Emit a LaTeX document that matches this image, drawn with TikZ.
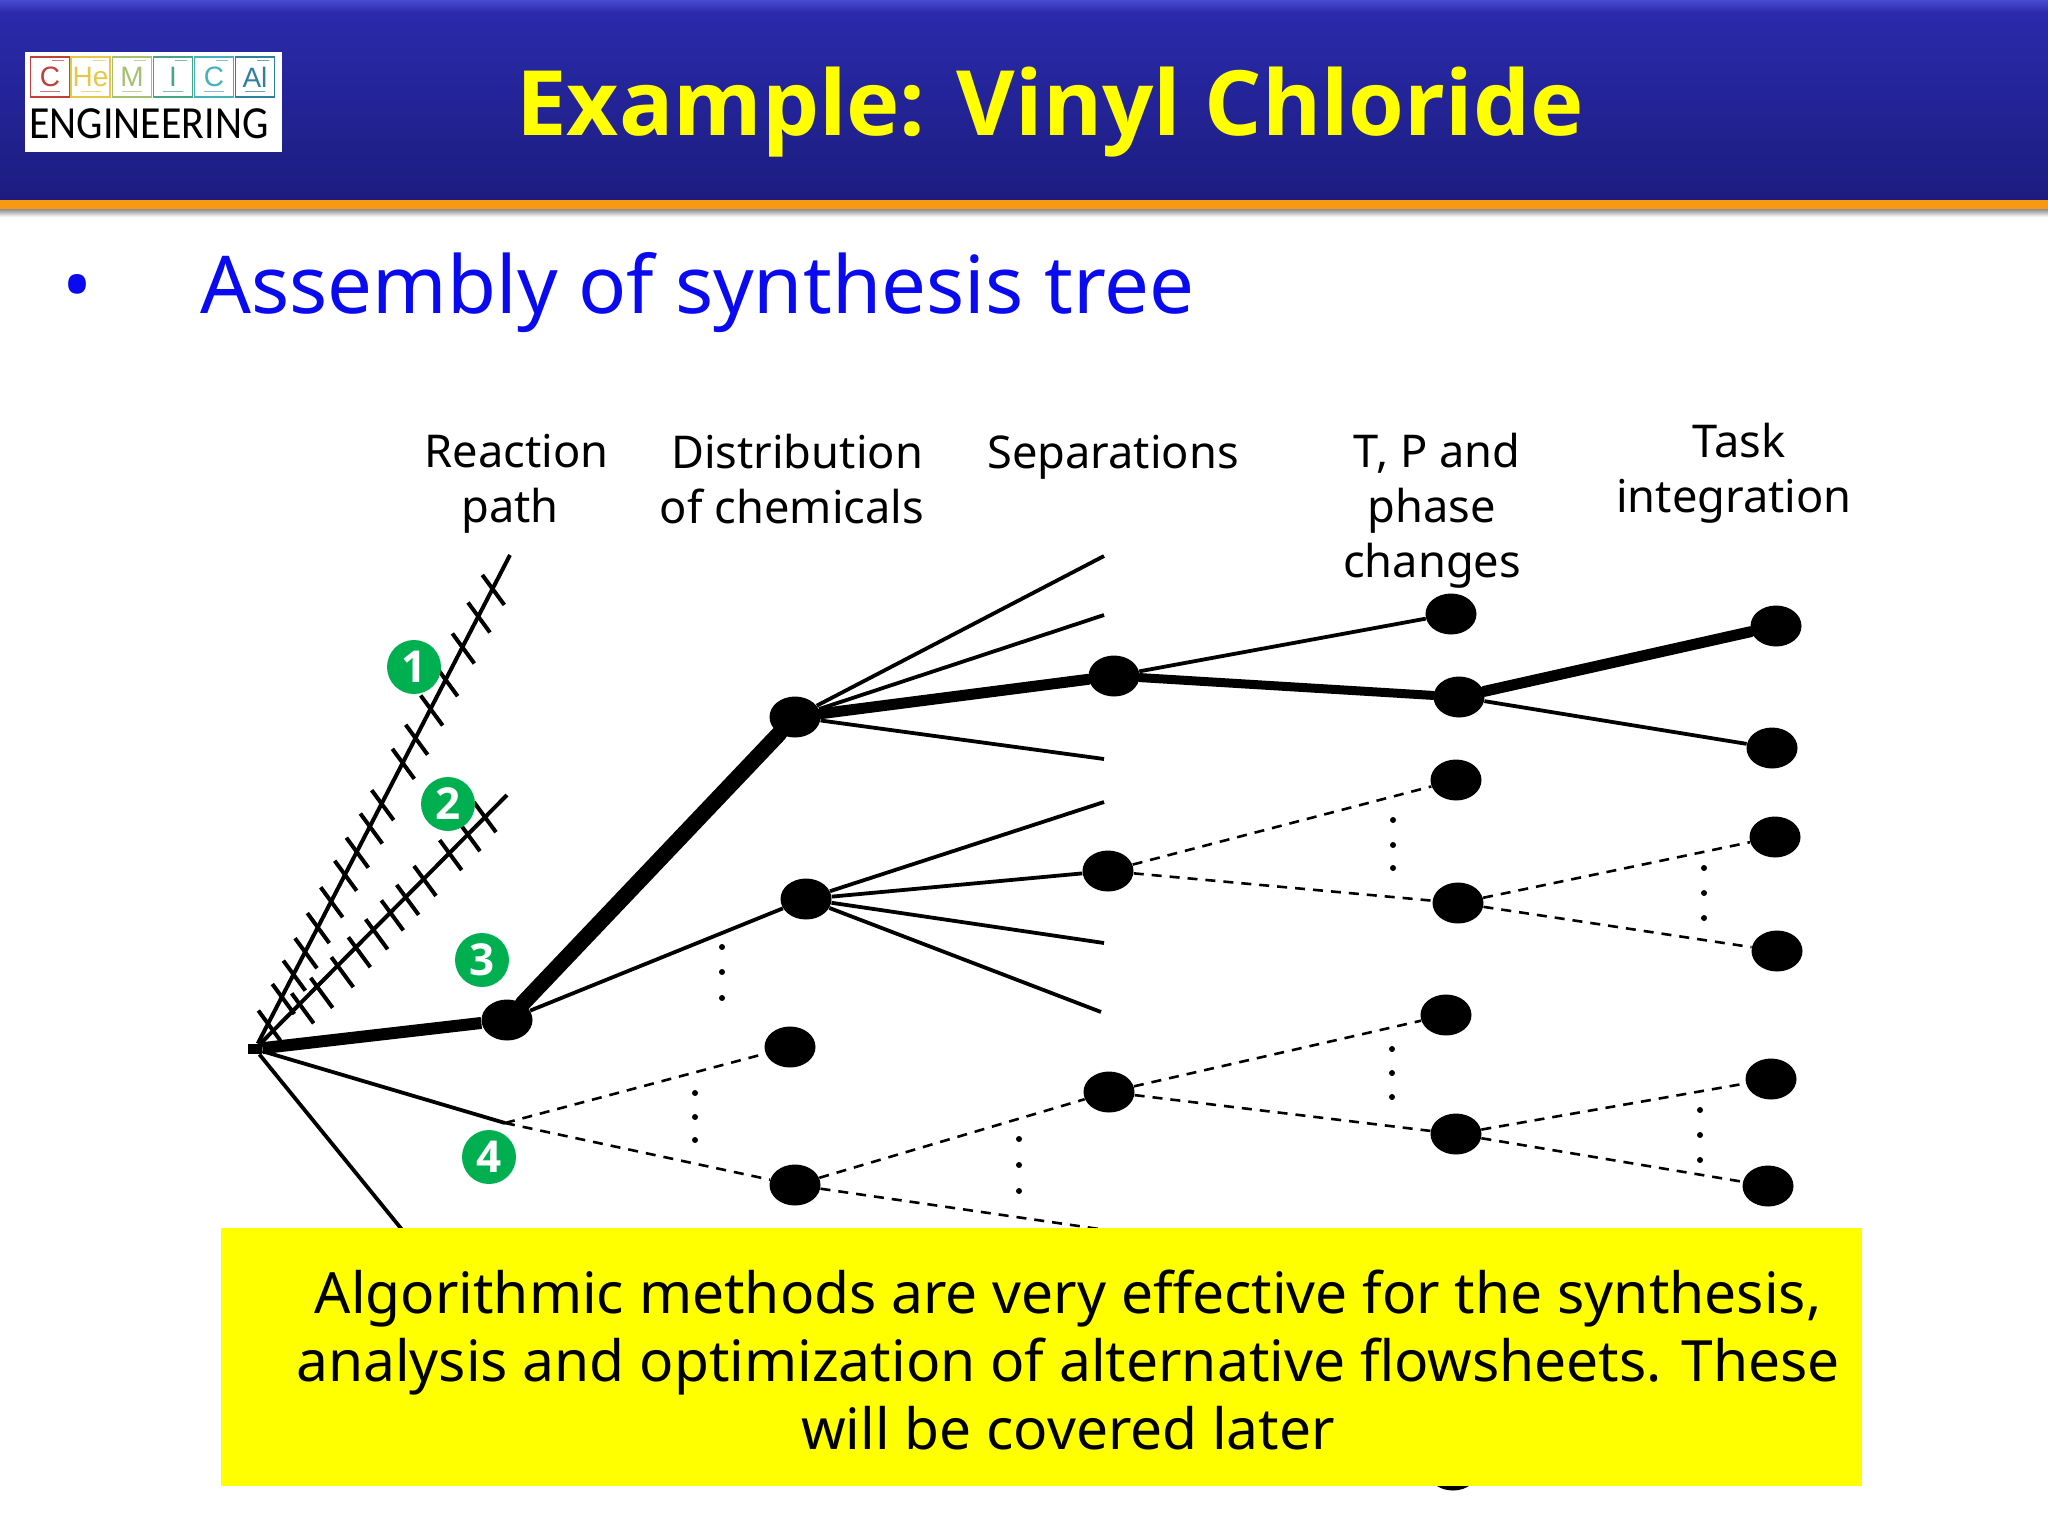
\documentclass[tikz,border=0pt]{standalone}
\usepackage{fontspec}
\setmainfont{Noto Sans}
\newfontfamily\boldface{Open Sans}[UprightFont=* Bold,BoldFont=* Bold]
\newfontfamily\logofont{Carlito}
\newfontfamily\tilefont{Liberation Sans}
\usetikzlibrary{shapes.geometric}
\definecolor{hdrtop}{HTML}{2B2BAE}
\definecolor{hdrbot}{HTML}{1C1C80}
\definecolor{hdrhi}{HTML}{4A4AD0}
\definecolor{barorange}{HTML}{F79A12}
\definecolor{bulletblue}{HTML}{0A0AF0}
\definecolor{tagreen}{HTML}{00B050}
\definecolor{pureyellow}{RGB}{255,255,0}
\definecolor{tileA}{HTML}{C0403A}
\definecolor{tileB}{HTML}{E5C84A}
\definecolor{tileC}{HTML}{A5C070}
\definecolor{tileD}{HTML}{45A585}
\definecolor{tileE}{HTML}{45B0BE}
\definecolor{tileF}{HTML}{2F7F9F}
\tikzset{
  x=0.5pt,y=-0.5pt,
  dotnode/.style={ellipse,fill=black,inner sep=0pt,minimum width=25.5pt,minimum height=20.5pt},
  tagnode/.style={ellipse,fill=tagreen,text=white,inner sep=0pt,minimum width=27pt,minimum height=27pt,font=\boldface\fontsize{22pt}{24pt}\selectfont},
  headnode/.style={align=center,font=\fontsize{22.6pt}{27.5pt}\selectfont},
  heavyline/.style={line width=8pt,line cap=round},
  strongline/.style={line width=5.5pt,line cap=round},
  plainline/.style={line width=1.9pt},
  dashline/.style={line width=1.3pt,dash pattern=on 5pt off 4pt},
  hatchline/.style={line width=2pt},
  dotmark/.style={fill=black},
}
\begin{document}
\begin{tikzpicture}
\useasboundingbox (0,0) rectangle (2048,1536);
\fill[white] (0,0) rectangle (2048,1536);
% header
\shade[top color=hdrtop,bottom color=hdrbot] (0,0) rectangle (2048,200);
\shade[top color=hdrhi,bottom color=hdrtop] (0,0) rectangle (2048,12);
\shade[top color=black!45,bottom color=white] (0,209) rectangle (2048,217);
\fill[barorange] (0,200) rectangle (2048,209);
% logo
\node[fill=white,minimum width=128.5pt,minimum height=50pt,inner sep=0pt] (logo) at (153.5,102) {};
\foreach \n/\x/\c/\t in {a/50/tileA/C,b/90.5/tileB/He,c/132/tileC/M,d/173/tileD/I,e/214/tileE/C,f/255/tileF/Al}{
  \node[draw=\c,line width=0.6pt,minimum width=19.5pt,minimum height=20pt,inner sep=0pt,text=\c,font=\tilefont\fontsize{14pt}{14pt}\selectfont] (tile\n) at (\x,77) {\t};
  \draw[\c!70,line width=0.5pt] (\x-10,92) -- (\x+10,92);
  \draw[\c!70,line width=0.5pt] (\x+2,61) -- (\x+14,61);
}
\node[font=\logofont\fontsize{23pt}{23pt}\selectfont,xscale=0.91,text=black,inner sep=0pt] (logotext) at (149,124) {ENGINEERING};
% title and bullet
\node[anchor=base,text=pureyellow,inner sep=0pt,font=\boldface\fontsize{45.1pt}{52pt}\selectfont] (title) at (1050,135) {Example: Vinyl Chloride};
\node[anchor=base,text=bulletblue,inner sep=0pt,font=\fontsize{39.9pt}{46pt}\selectfont] (bullet) at (78,313) {•};
\node[anchor=base west,text=bulletblue,inner sep=0pt,font=\fontsize{39.9pt}{46pt}\selectfont] (subtitle) at (200,313) {Assembly of synthesis tree};
% column heads
\node[headnode] (h1) at (510,484) {\hspace*{6.5pt}Reaction\\path};
\node[headnode] (h2) at (792,479) {\hspace*{5pt}Distribution\\of chemicals};
\node[headnode] (h3) at (1113,457) {Separations};
\node[headnode] (h4) at (1432,511) {\hspace*{5pt}T, P and\\phase\\changes};
\node[headnode] (h5) at (1734,473) {\hspace*{5pt}Task\\integration};
% tree nodes
\node[rectangle,fill=black,inner sep=0pt,minimum width=7pt,minimum height=5pt] (root) at (255,1049) {};
\node[dotnode] (r3) at (507,1020) {};
\coordinate (n4) at (505,1123);
\node[dotnode] (d1) at (795,717) {};
\node[dotnode] (d2) at (806,899) {};
\node[dotnode] (d3) at (790,1047) {};
\node[dotnode] (d4) at (795,1185) {};
\node[dotnode] (s1) at (1114,676) {};
\node[dotnode] (s2) at (1108,871) {};
\node[dotnode] (s3) at (1109,1092) {};
\node[dotnode] (t1) at (1451,614) {};
\node[dotnode] (t2) at (1459,697) {};
\node[dotnode] (t3) at (1456,780) {};
\node[dotnode] (t4) at (1458,903) {};
\node[dotnode] (t5) at (1446,1015) {};
\node[dotnode] (t6) at (1456,1134) {};
\node[dotnode] (t7) at (1453,1470) {};
\node[dotnode] (i1) at (1776,626) {};
\node[dotnode] (i2) at (1772,748) {};
\node[dotnode] (i3) at (1775,837) {};
\node[dotnode] (i4) at (1777,951) {};
\node[dotnode] (i5) at (1771,1079) {};
\node[dotnode] (i6) at (1768,1186) {};
% free ends
\coordinate (p1) at (510,555);
\coordinate (p2) at (507,795);
\coordinate (a1) at (1104,556);
\coordinate (a2) at (1104,615);
\coordinate (a3) at (1104,759);
\coordinate (b1) at (1104,802);
\coordinate (b2) at (1104,943);
\coordinate (b3) at (1101,1012);
\coordinate (c1) at (430,1264);
\coordinate (c2) at (1120,1232);
% rejected paths with hatching
\draw[hatchline] (root) -- (p1);
\draw[hatchline] (root) -- (p2);
\foreach \a/\b in {118/1410,160/1333,193/1265,228/1200,265/1127,305/1052,347/975,382/908,424/838,458/770,520/650,560/580,605/495,650/410,700/315,747/225,790/145}{
  \draw[hatchline] ({230+\a/3},{540+\b/2.904}) ++(-11,-15) -- ++(22,30);
}
\foreach \a/\b in {218/1360,275/1315,337/1255,388/1197,440/1145,487/1090,533/1045,585/990,662/915,717/860,765/805}{
  \draw[hatchline] ({230+\a/3},{540+\b/2.904}) ++(-11,-15) -- ++(22,30);
}
% solid connectors
\draw[line width=6pt] (root) -- (r3);
\draw[heavyline] (r3) -- (d1);
\draw[plainline] (r3) -- (d2);
\draw[strongline] (d1) -- (s1);
\draw[line width=4.5pt,line cap=round] (s1) -- (t2);
\draw[strongline] (t2) -- (i1);
\draw[plainline] (s1) -- (t1);
\draw[plainline] (t2) -- (i2);
\draw[plainline] (d1) -- (a1);
\draw[plainline] (d1) -- (a2);
\draw[plainline] (d1) -- (a3);
\draw[plainline] (d2) -- (b1);
\draw[plainline] (d2) -- (s2);
\draw[plainline] (d2) -- (b2);
\draw[plainline] (d2) -- (b3);
\draw[plainline] (root) -- (n4);
\draw[plainline] (root) -- (c1);
% dashed connectors
\draw[dashline] (n4) -- (d3);
\draw[dashline] (n4) -- (d4);
\draw[dashline] (d4) -- (s3);
\draw[dashline] (d4) -- (c2);
\draw[dashline] (s2) -- (t3);
\draw[dashline] (s2) -- (t4);
\draw[dashline] (t4) -- (i3);
\draw[dashline] (t4) -- (i4);
\draw[dashline] (s3) -- (t5);
\draw[dashline] (s3) -- (t6);
\draw[dashline] (t6) -- (i5);
\draw[dashline] (t6) -- (i6);
% vertical dots
\foreach \x/\y in {722/947,722/972,722/998,695/1093,695/1117,695/1140,1019/1139,1019/1165,1019/1191,1393/820,1393/845,1393/868,1392/1049,1392/1073,1392/1097,1704/868,1704/893,1704/918,1700/1110,1700/1135,1700/1160}{
  \fill[dotmark] (\x,\y) circle[radius=3];
}
% numbered tags
\node[tagnode] (n1) at (414,667) {1};
\node[tagnode] (n2) at (448,804) {2};
\node[tagnode] (n3) at (482,960) {3};
\node[tagnode] (n4tag) at (489,1157) {4};
% call-out
\node[fill=pureyellow,inner sep=0pt,minimum width=820.5pt,minimum height=129pt] (box) at (1041.5,1357) {};
\node[align=center,inner sep=0pt,font=\fontsize{28.45pt}{34pt}\selectfont] (boxtext) at (1068,1360) {Algorithmic methods are very effective for the synthesis,\\analysis and optimization of alternative flowsheets. These\\will be covered later};
\end{tikzpicture}
\end{document}
